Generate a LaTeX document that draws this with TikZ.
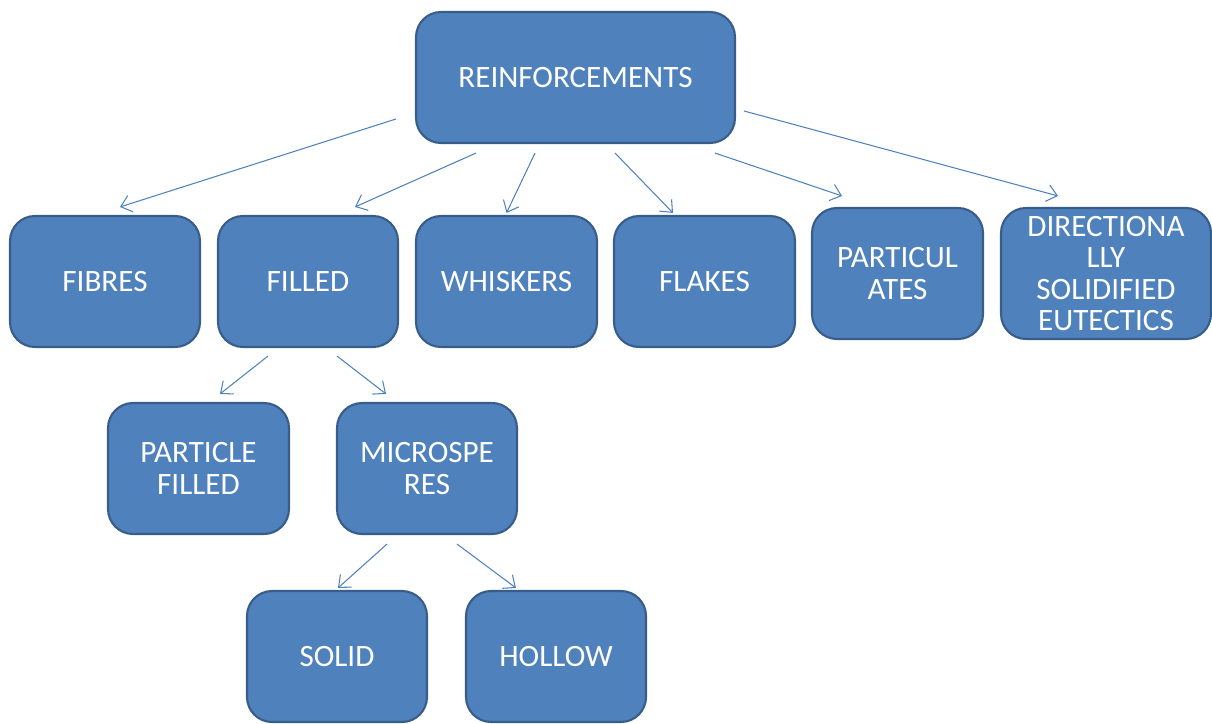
\documentclass[tikz,border=0pt]{standalone}
\usepackage{fontspec}
\setmainfont{Carlito}
\usetikzlibrary{arrows.meta}
\definecolor{boxblue}{RGB}{79,129,189}
\definecolor{boxedge}{RGB}{56,93,138}
\definecolor{linkblue}{RGB}{79,129,189}

\begin{document}
\begin{tikzpicture}[
    x=0.02cm, y=-0.02cm,
    box/.style={draw=boxedge, fill=boxblue, line width=1.2pt, rounded corners=0.5cm,
        text=white, align=center, minimum width=3.6cm, minimum height=2.62cm,
        inner sep=2pt, font=\fontsize{17.7}{18}\selectfont},
    link/.style={draw=linkblue, line width=0.6pt, -{Straight Barb[length=2mm,width=3.4mm]}}]

    \useasboundingbox (0,0) rectangle (1212,723);

    \node[box, minimum width=6.38cm] (reinf) at (575.5,77.5) {REINFORCEMENTS};

    \node[box, minimum width=3.8cm] (fibres) at (105,281.5) {FIBRES};
    \node[box] (filled) at (308,281.5) {FILLED};
    \node[box, minimum width=3.62cm] (whiskers) at (506.5,281.5) {WHISKERS};
    \node[box, minimum width=3.62cm] (flakes) at (704.5,281.5) {FLAKES};
    \node[box, minimum width=3.42cm] (partic) at (897.5,273.5) {PARTICUL\\ATES};
    \node[box, minimum width=4.2cm] (dse) at (1106,273.5) {DIRECTIONA\\LLY\\SOLIDIFIED\\EUTECTICS};

    \node[box, minimum width=3.62cm] (pfilled) at (198.5,468.5) {PARTICLE\\FILLED};
    \node[box] (micro) at (427,468.5) {MICROSPE\\RES};

    \node[box] (solid) at (337,656.5) {SOLID};
    \node[box] (hollow) at (556,656.5) {HOLLOW};

    % first level
    \draw[link] ([shift={(-19,41.5)}]reinf.west) -- ([shift={(15,-8)}]fibres.north);
    \draw[link] ([shift={(-99.5,9)}]reinf.south) -- ([shift={(47,-8)}]filled.north);
    \draw[link] ([shift={(-40.5,9)}]reinf.south) -- ([shift={(0,-2)}]whiskers.north);
    \draw[link] ([shift={(39.5,9)}]reinf.south) -- ([shift={(-31.5,-2)}]flakes.north);
    \draw[link] ([shift={(139.5,9)}]reinf.south) -- ([shift={(-55.5,-11)}]partic.north);
    \draw[link] ([shift={(8,33.5)}]reinf.east) -- ([shift={(-48,-11)}]dse.north);

    % filled
    \draw[link] ([shift={(-40,8)}]filled.south) -- ([shift={(21.5,-8)}]pfilled.north);
    \draw[link] ([shift={(29,8)}]filled.south) -- ([shift={(-41,-8)}]micro.north);

    % microspheres
    \draw[link] ([shift={(-40,9)}]micro.south) -- ([shift={(1,-2)}]solid.north);
    \draw[link] ([shift={(30,9)}]micro.south) -- ([shift={(-40,-2)}]hollow.north);

\end{tikzpicture}
\end{document}
